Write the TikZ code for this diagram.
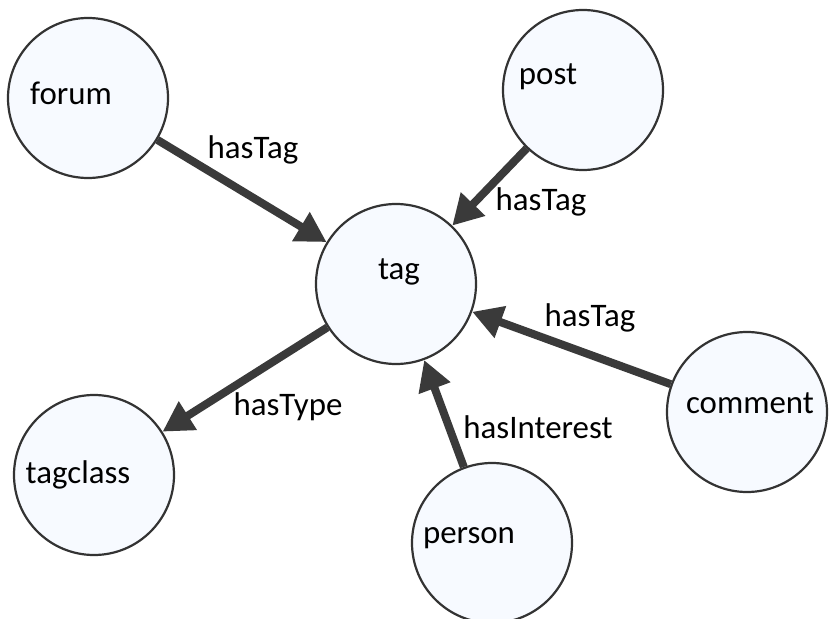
\documentclass[tikz,border=0pt]{standalone}
\usepackage{fontspec}
\setmainfont{Carlito}
\usepackage{tikz}
\usetikzlibrary{arrows.meta,positioning}
\definecolor{nodefill}{RGB}{247,250,255}
\definecolor{nodeline}{RGB}{51,51,51}
\definecolor{edgegray}{RGB}{58,58,58}
\tikzset{
  entity/.style={circle, draw=nodeline, line width=2.2bp, fill=nodefill,
                 minimum size=160bp, inner sep=0pt},
  rel/.style={-{Triangle[length=30bp, width=32bp]}, edgegray, line width=8bp},
  rellabel/.style={font=\fontsize{33}{38}\selectfont, text=black, inner sep=0pt},
  entlabel/.style={font=\fontsize{33}{38}\selectfont, text=black},
}

\begin{document}
\begin{tikzpicture}[x=1bp, y=-1bp]
  \useasboundingbox (0,0) rectangle (832,619);
  % entities
  \node[entity, label={[entlabel, xshift=-17bp, yshift=5bp]center:forum}] (forum) at (88,98) {};
  \node[entity, label={[entlabel, xshift=-35bp, yshift=13bp]center:post}] (post) at (583,90) {};
  \node[entity, label={[entlabel, xshift=3bp, yshift=12bp]center:tag}] (tag) at (396,284) {};
  \node[entity, label={[entlabel, xshift=-16bp]center:tagclass}] (tagclass) at (94,475) {};
  \node[entity, label={[entlabel, xshift=3bp, yshift=9bp]center:comment}] (comment) at (747,412) {};
  \node[entity, label={[entlabel, xshift=-23bp, yshift=5bp]center:person}] (person) at (492,543) {};
  % relations
  \draw[rel] (forum) -- (tag);
  \draw[rel] (post) -- (tag);
  \draw[rel] (comment) -- (tag);
  \draw[rel] (person) -- (tag);
  \draw[rel] (tag) -- (tagclass);
  \node[rellabel] (forumtag) at (253,150) {hasTag};
  \node[rellabel] (posttag) at (541,202) {hasTag};
  \node[rellabel] (commenttag) at (590,318) {hasTag};
  \node[rellabel] (tagtype) at (288,407) {hasType};
  \node[rellabel] (personint) at (538,427) {hasInterest};
\end{tikzpicture}
\end{document}
